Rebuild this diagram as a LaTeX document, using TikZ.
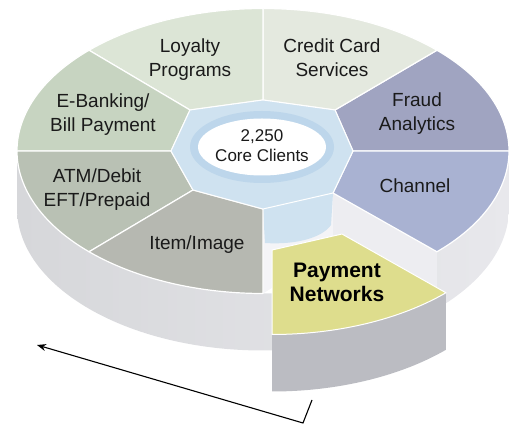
\documentclass[tikz,border=0pt]{standalone}
\usepackage{fontspec}
\setmainfont{Liberation Sans}
\usetikzlibrary{arrows.meta,calc}
\definecolor{cFraud}{HTML}{A0A4C1}
\definecolor{cCredit}{HTML}{E4E9DF}
\definecolor{cLoyal}{HTML}{DCE5D6}
\definecolor{cEbank}{HTML}{C7D4C1}
\definecolor{cAtm}{HTML}{B9C1B4}
\definecolor{cItem}{HTML}{B6B8B1}
\definecolor{cPay}{HTML}{DEDD8D}
\definecolor{cChan}{HTML}{A9B2D2}
\definecolor{cPayWall}{HTML}{BBBCC2}
\definecolor{wallL}{HTML}{D6D7DA}
\definecolor{wallR}{HTML}{E8E8EC}
\definecolor{cutFace}{HTML}{EDEDF1}
\definecolor{holeBlue}{HTML}{CFE2F0}
\definecolor{ringBlue}{HTML}{BDD6EB}
\definecolor{txt}{HTML}{1A1A1A}
\newcommand{\mytwo}[2]{\begin{tabular}[t]{@{}c@{}}#1\\#2\end{tabular}}
\begin{document}
\begin{tikzpicture}[x=1pt,y=1pt,
  ell/.style={x radius=246, y radius=142.5},
  seg/.style={draw=white, line width=1.2pt, line join=round},
  lbl/.style={anchor=base, inner sep=0pt, text=txt, font=\fontsize{19}{24}\selectfont},
  lblbold/.style={anchor=base, inner sep=0pt, text=black, font=\bfseries\fontsize{21}{24}\selectfont},
  lblcore/.style={anchor=base, inner sep=0pt, text=txt, font=\fontsize{17}{20}\selectfont},
  flow/.style={draw=black, line width=1.1pt, -{Stealth[length=9pt,width=7pt]}}]
\useasboundingbox (0,0) rectangle (509,428);
% inner vertices
\coordinate (i0) at (353,277);
\coordinate (i45) at (335,318);
\coordinate (i90) at (263,328);
\coordinate (i135) at (190,318);
\coordinate (i180) at (171,277);
\coordinate (i225) at (193,238);
\coordinate (i270) at (263,219);
\coordinate (i315) at (333,235);
\coordinate (i315b) at (333,178);
% outer points
\coordinate (o0) at ({263+246*cos(0)},{277+142.5*sin(0)});
\coordinate (o45) at ({263+246*cos(45)},{277+142.5*sin(45)});
\coordinate (o90) at ({263+246*cos(90)},{277+142.5*sin(90)});
\coordinate (o135) at ({263+246*cos(135)},{277+142.5*sin(135)});
\coordinate (o180) at ({263+246*cos(180)},{277+142.5*sin(180)});
\coordinate (o225) at ({263+246*cos(225)},{277+142.5*sin(225)});
\coordinate (o270) at ({263+246*cos(270)},{277+142.5*sin(270)});
\coordinate (o315) at ({263+246*cos(315)},{277+142.5*sin(315)});
% pulled-out segment corners (shifted by (9,-41))
\coordinate (pi270) at (272,178);
\coordinate (pi315) at (342,194);
\coordinate (po270) at ({272+246*cos(270)},{236+142.5*sin(270)});
% main outer wall
\shade[left color=wallL, right color=wallR] (o180) arc[ell, start angle=180, end angle=360] -- ++(0,-57) arc[ell, start angle=360, end angle=180] -- cycle;
% channel cut face
\fill[cutFace] (i315) -- (o315) -- ++(0,-57) -- (i315b) -- cycle;
% slot floor and blue core
\fill[cutFace!60!white] (i270) -- (i315) -- (i315b) -- (263,134.5) -- cycle;
\fill[holeBlue] (i270) -- (i315) -- (331,203) .. controls (322,190) and (295,183) .. (265,185) -- cycle;
% top faces
\fill[cFraud, seg] (i0) -- (o0) arc[ell, start angle=0, end angle=45] -- (i45) -- cycle;
\fill[cCredit, seg] (i45) -- (o45) arc[ell, start angle=45, end angle=90] -- (i90) -- cycle;
\fill[cLoyal, seg] (i90) -- (o90) arc[ell, start angle=90, end angle=135] -- (i135) -- cycle;
\fill[cEbank, seg] (i135) -- (o135) arc[ell, start angle=135, end angle=180] -- (i180) -- cycle;
\fill[cAtm, seg] (i180) -- (o180) arc[ell, start angle=180, end angle=225] -- (i225) -- cycle;
\fill[cItem, seg] (i225) -- (o225) arc[ell, start angle=225, end angle=270] -- (i270) -- cycle;
\fill[cChan, seg] (i315) -- (o315) arc[ell, start angle=315, end angle=360] -- (i0) -- cycle;
% hole
\fill[holeBlue, draw=white, line width=1pt] (i0) -- (i45) -- (i90) -- (i135) -- (i180) -- (i225) -- (i270) -- (i315) -- cycle;
\fill[ringBlue] (262,281) ellipse[x radius=72, y radius=36];
\fill[white] (262,281) ellipse[x radius=64, y radius=28.5];
% pulled-out segment
\fill[cPayWall] (po270) arc[ell, start angle=270, end angle=315] -- ++(0,-57) arc[ell, start angle=315, end angle=270] -- cycle;
\fill[cPay, draw=white, line width=1pt, line join=round] (pi270) -- (po270) arc[ell, start angle=270, end angle=315] -- (pi315) -- cycle;
% labels
\node[lbl] (loy) at (190,375) {\mytwo{Loyalty}{Programs}};
\node[lbl] (cred) at (332,375) {\mytwo{Credit Card}{Services}};
\node[lbl] (ebank) at (103,320) {\mytwo{E-Banking/}{Bill Payment}};
\node[lbl] (fraud) at (417,321) {\mytwo{Fraud}{Analytics}};
\node[lblcore] (core) at (262,286) {\mytwo{2,250}{Core Clients}};
\node[lbl] (atm) at (97,245) {\mytwo{ATM/Debit}{EFT/Prepaid}};
\node[lbl] (chan) at (415,235) {Channel};
\node[lbl] (item) at (197,178) {Item/Image};
\node[lblbold] (pay) at (337,150) {\mytwo{Payment}{Networks}};
% arrow
\coordinate (arrS) at (312,28);
\coordinate (arrK) at (303,5);
\coordinate (arrE) at (37,83);
\draw[flow] (arrS) -- (arrK) -- (arrE);
\end{tikzpicture}
\end{document}
